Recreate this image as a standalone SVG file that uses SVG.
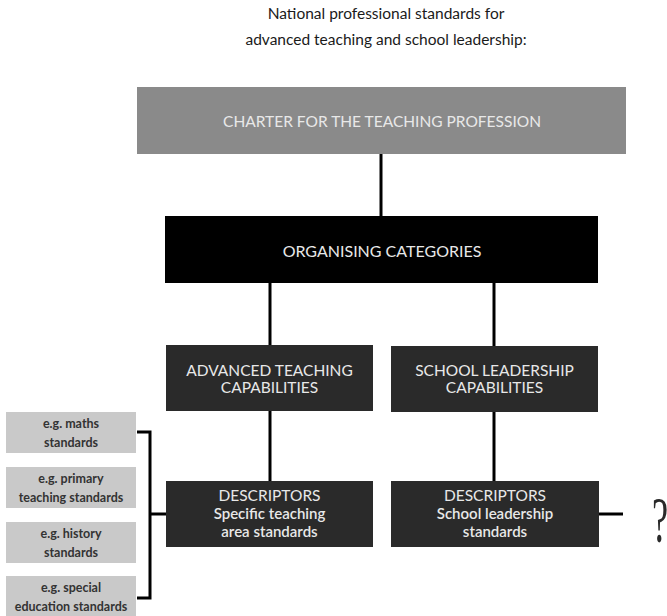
<svg xmlns="http://www.w3.org/2000/svg" width="667" height="616" viewBox="0 0 667 616">
<style>
.title{font-family:Lato,"Open Sans","DejaVu Sans",sans-serif;font-size:15.5px;fill:#1a1a1a;text-anchor:middle}
.cap{font-family:Lato,"Open Sans","DejaVu Sans",sans-serif;font-size:15.5px;fill:#e8e8e8;text-anchor:middle}
.low{font-family:Lato,"Open Sans","DejaVu Sans",sans-serif;font-size:15px;font-weight:600;fill:#e8e8e8;text-anchor:middle}
.ex{font-family:Lato,"Open Sans","DejaVu Sans",sans-serif;font-size:12.5px;font-weight:bold;fill:#333;text-anchor:middle}
.dark{fill:#2a2a2a}
.exbox{fill:#c9c9c9}
.conn{stroke:#000;stroke-width:3;fill:none}
</style>
<rect width="667" height="616" fill="#fff"/>
<g id="title">
<text class="title" x="386" y="19">National professional standards for</text>
<text class="title" x="386" y="45">advanced teaching and school leadership:</text>
</g>
<g id="connectors">
<line class="conn" x1="381" y1="154" x2="381" y2="216"/>
<line class="conn" x1="270" y1="283" x2="270" y2="345"/>
<line class="conn" x1="494" y1="283" x2="494" y2="346"/>
<line class="conn" x1="270" y1="411" x2="270" y2="481"/>
<line class="conn" x1="494" y1="412" x2="494" y2="481"/>
<line class="conn" x1="599" y1="514" x2="623" y2="514"/>
<polyline class="conn" points="137,432 150,432 150,598 137,598"/>
<line class="conn" x1="150" y1="514" x2="166" y2="514"/>
</g>
<g id="charter">
<rect x="137" y="87" width="489" height="67" fill="#8a8a8a"/>
<text class="cap" x="382" y="127">CHARTER FOR THE TEACHING PROFESSION</text>
</g>
<g id="organising">
<rect x="165" y="216" width="433" height="67" fill="#000"/>
<text class="cap" x="382" y="257" style="font-size:16px">ORGANISING CATEGORIES</text>
</g>
<g id="advanced">
<rect class="dark" x="166" y="345" width="207" height="66"/>
<text class="cap" x="269.5" y="375.5">ADVANCED TEACHING</text>
<text class="cap" x="269.5" y="393">CAPABILITIES</text>
</g>
<g id="leadership">
<rect class="dark" x="391" y="346" width="207" height="66"/>
<text class="cap" x="494.5" y="375.5">SCHOOL LEADERSHIP</text>
<text class="cap" x="494.5" y="393">CAPABILITIES</text>
</g>
<g id="descriptors-teaching">
<rect class="dark" x="166" y="481" width="207" height="66"/>
<text class="cap" x="269.5" y="501">DESCRIPTORS</text>
<text class="low" x="269.5" y="519">Specific teaching</text>
<text class="low" x="269.5" y="537">area standards</text>
</g>
<g id="descriptors-leadership">
<rect class="dark" x="391" y="481" width="208" height="66"/>
<text class="cap" x="495" y="501">DESCRIPTORS</text>
<text class="low" x="495" y="519">School leadership</text>
<text class="low" x="495" y="537">standards</text>
</g>
<g id="question">
<text transform="translate(660,542) scale(0.55,1)" style="font-family:'Liberation Serif','DejaVu Serif',serif;font-size:66px;fill:#2a2a2a;text-anchor:middle">?</text>
</g>
<g id="ex-maths">
<rect class="exbox" x="6" y="412" width="130" height="41"/>
<text class="ex" x="71" y="428">e.g. maths</text>
<text class="ex" x="71" y="447">standards</text>
</g>
<g id="ex-primary">
<rect class="exbox" x="6" y="467" width="130" height="41"/>
<text class="ex" x="71" y="483">e.g. primary</text>
<text class="ex" x="71" y="502">teaching standards</text>
</g>
<g id="ex-history">
<rect class="exbox" x="6" y="522" width="130" height="41"/>
<text class="ex" x="71" y="538">e.g. history</text>
<text class="ex" x="71" y="557">standards</text>
</g>
<g id="ex-special">
<rect class="exbox" x="6" y="576" width="130" height="40"/>
<text class="ex" x="71" y="592">e.g. special</text>
<text class="ex" x="71" y="611">education standards</text>
</g>
</svg>
